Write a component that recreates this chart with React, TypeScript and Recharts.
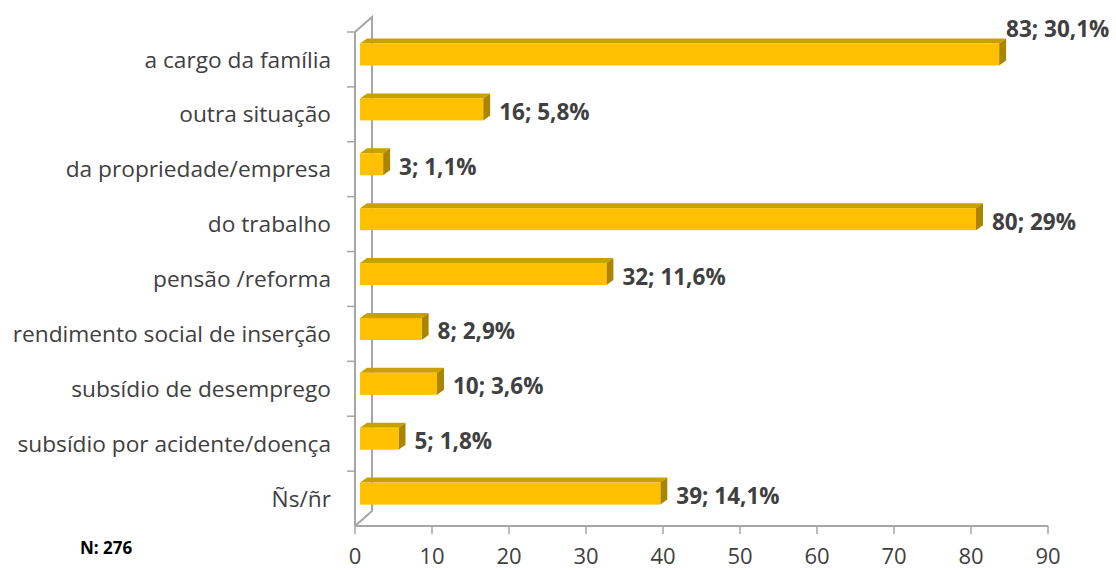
import React from "react";
import {
  BarChart,
  Bar,
  XAxis,
  YAxis,
  LabelList,
  Customized,
} from "recharts";

const categories = [
  "a cargo da família",
  "outra situação",
  "da propriedade/empresa",
  "do trabalho",
  "pensão /reforma",
  "rendimento social de inserção",
  "subsídio de desemprego",
  "subsídio por acidente/doença",
  "Ñs/ñr",
];
const counts = [83, 16, 3, 80, 32, 8, 10, 5, 39];
const percents = ["30,1%", "5,8%", "1,1%", "29%", "11,6%", "2,9%", "3,6%", "1,8%", "14,1%"];
const xTicks = [0, 10, 20, 30, 40, 50, 60, 70, 80, 90];

const data = categories.map((name, i) => ({ name, count: counts[i], pct: percents[i] }));

const W = 1116;
const H = 570;
const Y_AXIS_W = 355;
const X_AXIS_H = 44;
const MARGIN = { top: 32, right: 68, left: 0, bottom: 0 };
const PLOT = {
  x: MARGIN.left + Y_AXIS_W,
  y: MARGIN.top,
  w: W - MARGIN.left - Y_AXIS_W - MARGIN.right,
  h: H - MARGIN.top - MARGIN.bottom - X_AXIS_H,
};
const DEPTH_X = 17;
const DEPTH_Y = 15;
const BAR_DX = 5;
const BAR_DY = -4.5;
const FACE_X = 7;
const FACE_Y = 5;

const GRID = "#a6a6a6";
const TEXT = "#404040";
const FONT = "'Open Sans', sans-serif";

const Wall = () => {
  const band = PLOT.h / categories.length;
  const left = PLOT.x;
  const top = PLOT.y;
  const bottom = PLOT.y + PLOT.h;
  return (
    <g>
      <polyline
        points={`${left},${top} ${left + DEPTH_X},${top - DEPTH_Y} ${left + DEPTH_X},${bottom - DEPTH_Y} ${left},${bottom}`}
        fill="none"
        stroke={GRID}
        strokeWidth={2}
      />
      <line x1={left} y1={top} x2={left} y2={bottom} stroke={GRID} strokeWidth={2} />
      {categories.map((_, i) => (
        <line key={i} x1={left - 8} x2={left} y1={top + i * band} y2={top + i * band} stroke={GRID} strokeWidth={1.5} />
      ))}
    </g>
  );
};

const Bar3D = (props: any) => {
  const { x, y, width, height } = props;
  const fx = x + BAR_DX;
  const fy = y + BAR_DY;
  const w = Math.max(width, 0);
  return (
    <g>
      <polygon
        points={`${fx},${fy} ${fx + FACE_X},${fy - FACE_Y} ${fx + w + FACE_X},${fy - FACE_Y} ${fx + w},${fy}`}
        fill="#c9a000"
      />
      <polygon
        points={`${fx + w},${fy} ${fx + w + FACE_X},${fy - FACE_Y} ${fx + w + FACE_X},${fy + height - FACE_Y} ${fx + w},${fy + height}`}
        fill="#a98500"
      />
      <rect x={fx} y={fy} width={w} height={height} fill="#ffc000" />
    </g>
  );
};

const ValueLabel = (props: any) => {
  const { x, y, width, height, index } = props;
  const row = data[index];
  const fy = y + BAR_DY;
  const endX = x + BAR_DX + width + FACE_X;
  const top = index === 0;
  return (
    <text
      x={top ? endX : endX + 9}
      y={top ? fy - 15 : fy + height / 2 + 2}
      dominantBaseline="central"
      fontFamily={FONT}
      fontWeight="bold"
      fontSize={22.5}
      fill={TEXT}
    >
      {`${row.count}; ${row.pct}`}
    </text>
  );
};

export default function App() {
  return (
    <div style={{ position: "absolute", left: 0, top: 0, width: W, height: H, background: "#fff" }}>
      <BarChart
        width={W}
        height={H}
        data={data}
        layout="vertical"
        margin={MARGIN}
        barCategoryGap={0}
      >
        <Customized component={<Wall />} />
        <XAxis
          type="number"
          domain={[0, 90]}
          ticks={xTicks}
          height={X_AXIS_H}
          axisLine={{ stroke: GRID, strokeWidth: 2 }}
          tickLine={{ stroke: GRID, strokeWidth: 1.5 }}
          tickSize={8}
          tickMargin={14}
          tick={{ fill: TEXT, fontSize: 22, fontFamily: FONT }}
          interval={0}
        />
        <YAxis
          type="category"
          dataKey="name"
          width={Y_AXIS_W}
          axisLine={false}
          tickLine={false}
          tickSize={8}
          tickMargin={16}
          tick={{ fill: TEXT, fontSize: 22.7, fontFamily: FONT }}
          interval={0}
        />
        <Bar dataKey="count" barSize={22} shape={<Bar3D />} isAnimationActive={false}>
          <LabelList dataKey="count" content={<ValueLabel />} />
        </Bar>
      </BarChart>
      <div
        style={{
          position: "absolute",
          left: 80,
          top: 536,
          fontFamily: FONT,
          fontWeight: "bold",
          fontSize: 17,
          color: "#000",
        }}
      >
        N: 276
      </div>
    </div>
  );
}
